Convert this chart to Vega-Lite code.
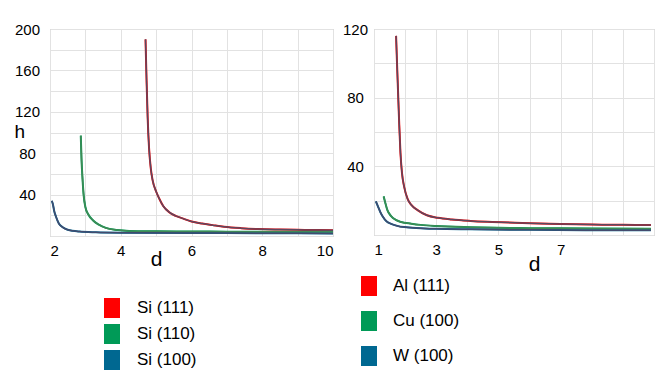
{
  "$schema": "https://vega.github.io/schema/vega-lite/v6.json",
  "padding": {"left": 13, "top": 21, "right": 5, "bottom": 2},
  "bounds": "flush",
  "spacing": 41,
  "background": "white",
  "config": {
    "view": {"stroke": "#b4b4b4", "strokeWidth": 1},
    "font": "Liberation Sans",
    "axis": {"grid": true, "gridColor": "#e2e2e2", "gridWidth": 1, "domain": false, "ticks": false, "labelFontSize": 15, "labelColor": "#000000", "labelFont": "Liberation Sans", "titleFont": "Liberation Sans", "titleFontWeight": "normal", "titleColor": "#000000"},
    "legend": {"labelFont": "Liberation Sans", "labelFontSize": 17, "labelColor": "#000000"}
  },
  "datasets": {
    "left": [
      {"series": "Si (111)", "d": 4.70, "h": 190},
      {"series": "Si (111)", "d": 4.73, "h": 150},
      {"series": "Si (111)", "d": 4.76, "h": 115},
      {"series": "Si (111)", "d": 4.80, "h": 85},
      {"series": "Si (111)", "d": 4.85, "h": 65},
      {"series": "Si (111)", "d": 4.90, "h": 54},
      {"series": "Si (111)", "d": 5.00, "h": 43},
      {"series": "Si (111)", "d": 5.09, "h": 36},
      {"series": "Si (111)", "d": 5.20, "h": 29},
      {"series": "Si (111)", "d": 5.37, "h": 23},
      {"series": "Si (111)", "d": 5.55, "h": 19.5},
      {"series": "Si (111)", "d": 5.75, "h": 17},
      {"series": "Si (111)", "d": 6.00, "h": 14},
      {"series": "Si (111)", "d": 6.30, "h": 12},
      {"series": "Si (111)", "d": 6.60, "h": 10.5},
      {"series": "Si (111)", "d": 6.92, "h": 9},
      {"series": "Si (111)", "d": 7.40, "h": 7.6},
      {"series": "Si (111)", "d": 7.87, "h": 6.7},
      {"series": "Si (111)", "d": 8.50, "h": 6.2},
      {"series": "Si (111)", "d": 9.20, "h": 5.9},
      {"series": "Si (111)", "d": 10.0, "h": 5.6},
      {"series": "Si (110)", "d": 2.87, "h": 97},
      {"series": "Si (110)", "d": 2.89, "h": 75},
      {"series": "Si (110)", "d": 2.92, "h": 55},
      {"series": "Si (110)", "d": 2.95, "h": 40},
      {"series": "Si (110)", "d": 3.00, "h": 28},
      {"series": "Si (110)", "d": 3.08, "h": 21},
      {"series": "Si (110)", "d": 3.22, "h": 15},
      {"series": "Si (110)", "d": 3.38, "h": 11},
      {"series": "Si (110)", "d": 3.58, "h": 7.8},
      {"series": "Si (110)", "d": 3.90, "h": 5.8},
      {"series": "Si (110)", "d": 4.24, "h": 4.9},
      {"series": "Si (110)", "d": 5.0, "h": 4.5},
      {"series": "Si (110)", "d": 6.0, "h": 4.3},
      {"series": "Si (110)", "d": 7.0, "h": 4.2},
      {"series": "Si (110)", "d": 8.0, "h": 4.1},
      {"series": "Si (110)", "d": 10.0, "h": 4.0},
      {"series": "Si (100)", "d": 2.05, "h": 34},
      {"series": "Si (100)", "d": 2.08, "h": 31},
      {"series": "Si (100)", "d": 2.12, "h": 24},
      {"series": "Si (100)", "d": 2.17, "h": 18.6},
      {"series": "Si (100)", "d": 2.25, "h": 12},
      {"series": "Si (100)", "d": 2.36, "h": 8.4},
      {"series": "Si (100)", "d": 2.50, "h": 6},
      {"series": "Si (100)", "d": 2.83, "h": 4.3},
      {"series": "Si (100)", "d": 3.30, "h": 3.6},
      {"series": "Si (100)", "d": 4.0, "h": 3.2},
      {"series": "Si (100)", "d": 6.0, "h": 2.9},
      {"series": "Si (100)", "d": 8.0, "h": 2.7},
      {"series": "Si (100)", "d": 10.0, "h": 2.5}
    ],
    "right": [
      {"series": "Al (111)", "d": 1.71, "h": 116},
      {"series": "Al (111)", "d": 1.74, "h": 100},
      {"series": "Al (111)", "d": 1.77, "h": 85},
      {"series": "Al (111)", "d": 1.81, "h": 65},
      {"series": "Al (111)", "d": 1.85, "h": 48},
      {"series": "Al (111)", "d": 1.90, "h": 36},
      {"series": "Al (111)", "d": 1.97, "h": 28},
      {"series": "Al (111)", "d": 2.08, "h": 21},
      {"series": "Al (111)", "d": 2.20, "h": 17.5},
      {"series": "Al (111)", "d": 2.40, "h": 14.5},
      {"series": "Al (111)", "d": 2.70, "h": 11.5},
      {"series": "Al (111)", "d": 3.05, "h": 10},
      {"series": "Al (111)", "d": 3.50, "h": 9},
      {"series": "Al (111)", "d": 4.10, "h": 8.2},
      {"series": "Al (111)", "d": 4.80, "h": 7.6},
      {"series": "Al (111)", "d": 6.0, "h": 6.8},
      {"series": "Al (111)", "d": 7.0, "h": 6.4},
      {"series": "Al (111)", "d": 8.0, "h": 6.1},
      {"series": "Al (111)", "d": 9.0, "h": 5.9},
      {"series": "Al (111)", "d": 9.9, "h": 5.8},
      {"series": "Cu (100)", "d": 1.31, "h": 22.5},
      {"series": "Cu (100)", "d": 1.36, "h": 19},
      {"series": "Cu (100)", "d": 1.43, "h": 14.5},
      {"series": "Cu (100)", "d": 1.55, "h": 11},
      {"series": "Cu (100)", "d": 1.70, "h": 8.8},
      {"series": "Cu (100)", "d": 1.87, "h": 7.6},
      {"series": "Cu (100)", "d": 2.20, "h": 6.6},
      {"series": "Cu (100)", "d": 2.50, "h": 5.9},
      {"series": "Cu (100)", "d": 3.0, "h": 5.2},
      {"series": "Cu (100)", "d": 4.1, "h": 4.5},
      {"series": "Cu (100)", "d": 5.0, "h": 4.2},
      {"series": "Cu (100)", "d": 6.0, "h": 4.0},
      {"series": "Cu (100)", "d": 7.0, "h": 3.9},
      {"series": "Cu (100)", "d": 8.0, "h": 3.8},
      {"series": "Cu (100)", "d": 9.9, "h": 3.7},
      {"series": "W (100)", "d": 1.06, "h": 19.6},
      {"series": "W (100)", "d": 1.12, "h": 17},
      {"series": "W (100)", "d": 1.20, "h": 13.5},
      {"series": "W (100)", "d": 1.28, "h": 10.8},
      {"series": "W (100)", "d": 1.40, "h": 8},
      {"series": "W (100)", "d": 1.55, "h": 6.5},
      {"series": "W (100)", "d": 1.75, "h": 5.3},
      {"series": "W (100)", "d": 1.97, "h": 4.6},
      {"series": "W (100)", "d": 2.5, "h": 4.0},
      {"series": "W (100)", "d": 3.0, "h": 3.6},
      {"series": "W (100)", "d": 4.1, "h": 3.3},
      {"series": "W (100)", "d": 6.0, "h": 3.0},
      {"series": "W (100)", "d": 8.0, "h": 2.8},
      {"series": "W (100)", "d": 9.9, "h": 2.7}
    ]
  },
  "resolve": {"scale": {"color": "independent", "stroke": "independent", "x": "independent", "y": "independent"}, "legend": {"color": "independent"}},
  "hconcat": [
    {
      "width": 283,
      "height": 207,
      "data": {"name": "left"},
      "encoding": {
        "x": {"field": "d", "type": "quantitative",
          "scale": {"domain": [2, 10], "nice": false, "zero": false},
          "axis": {"values": [2, 3, 4, 5, 6, 7, 8, 9, 10], "labelExpr": "datum.value % 2 == 0 ? datum.label : ''", "labelPadding": 7, "title": "d", "titleFontSize": 21, "titleX": 106, "titleY": 29, "titleAlign": "center", "titleBaseline": "alphabetic"}},
        "y": {"field": "h", "type": "quantitative",
          "scale": {"domain": [0, 200], "nice": false},
          "axis": {"values": [0, 20, 40, 60, 80, 100, 120, 140, 160, 180, 200], "labelExpr": "datum.value > 0 && datum.value % 40 == 0 ? datum.label : ''", "labelAlign": "center", "labelPadding": 23, "title": "h", "titleAngle": 0, "titleX": -36, "titleY": 108, "titleAlign": "left", "titleBaseline": "alphabetic", "titleFontSize": 19}}
      },
      "layer": [
        {
          "mark": {"type": "line", "strokeWidth": 2.0, "interpolate": "monotone", "clip": true},
          "encoding": {
            "color": {"field": "series", "type": "nominal",
              "scale": {"domain": ["Si (111)", "Si (110)", "Si (100)"], "range": ["#ff0000", "#009a57", "#006891"]},
              "legend": {"orient": "none", "direction": "vertical", "legendX": 52, "legendY": 269, "title": null, "symbolType": "M-0.8,-1H0.8V1H-0.8Z", "symbolSize": 400, "symbolStrokeWidth": 0, "rowPadding": 6, "labelOffset": 15, "labelFontSize": 17,
                "encode": {"symbols": {"update": {"fill": {"scale": "concat_0_color", "field": "value"}, "fillOpacity": {"value": 1}, "strokeWidth": {"value": 0}}}}}}
          }
        },
        {
          "mark": {"type": "line", "strokeWidth": 1.5, "interpolate": "monotone", "clip": true},
          "encoding": {
            "stroke": {"field": "series", "type": "nominal",
              "scale": {"domain": ["Si (111)", "Si (110)", "Si (100)"], "range": ["#5c4860", "#3f8a55", "#434a6e"]},
              "legend": null}
          }
        }
      ]
    },
    {
      "width": 280,
      "height": 206,
      "data": {"name": "right"},
      "encoding": {
        "x": {"field": "d", "type": "quantitative",
          "scale": {"domain": [1, 10], "nice": false, "zero": false},
          "axis": {"values": [1, 2, 3, 4, 5, 6, 7, 8, 9, 10], "labelExpr": "datum.value % 2 == 1 && datum.value < 9 ? datum.label : ''", "labelPadding": 7, "title": "d", "titleFontSize": 21, "titleX": 160, "titleY": 35, "titleAlign": "center", "titleBaseline": "alphabetic"}},
        "y": {"field": "h", "type": "quantitative",
          "scale": {"domain": [0, 120], "nice": false},
          "axis": {"values": [0, 20, 40, 60, 80, 100, 120], "labelExpr": "datum.value > 0 && datum.value % 40 == 0 ? datum.label : ''", "labelAlign": "center", "labelPadding": 19, "title": null}}
      },
      "layer": [
        {
          "mark": {"type": "line", "strokeWidth": 2.0, "interpolate": "monotone", "clip": true},
          "encoding": {
            "color": {"field": "series", "type": "nominal",
              "scale": {"domain": ["Al (111)", "Cu (100)", "W (100)"], "range": ["#ff0000", "#009a57", "#006891"]},
              "legend": {"orient": "none", "direction": "vertical", "legendX": -15, "legendY": 247, "title": null, "symbolType": "M-0.8,-1H0.8V1H-0.8Z", "symbolSize": 400, "symbolStrokeWidth": 0, "rowPadding": 15, "labelOffset": 14, "labelFontSize": 17,
                "encode": {"symbols": {"update": {"fill": {"scale": "concat_1_color", "field": "value"}, "fillOpacity": {"value": 1}, "strokeWidth": {"value": 0}}}}}}
          }
        },
        {
          "mark": {"type": "line", "strokeWidth": 1.5, "interpolate": "monotone", "clip": true},
          "encoding": {
            "stroke": {"field": "series", "type": "nominal",
              "scale": {"domain": ["Al (111)", "Cu (100)", "W (100)"], "range": ["#5c4860", "#3f8a55", "#434a6e"]},
              "legend": null}
          }
        }
      ]
    }
  ]
}
